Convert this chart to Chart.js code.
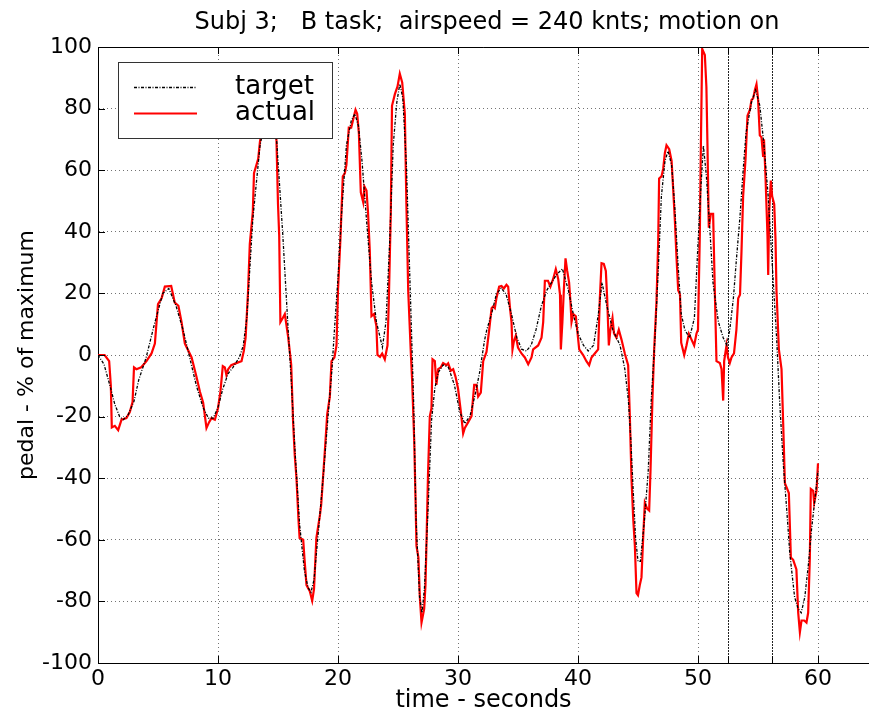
<!DOCTYPE html>
<html><head><meta charset="utf-8">
<script src="https://cdn.jsdelivr.net/npm/chart.js@4.4.1/dist/chart.umd.min.js"></script>
<style>html,body{margin:0;padding:0;background:#fff;}canvas{display:block;}</style>
</head><body>
<canvas id="c" width="869" height="717"></canvas>
<script>
const titleText = 'Subj 3;   B task;  airspeed = 240 knts; motion on';
const xTitle = 'time - seconds';
const yTitle = 'pedal - % of maximum';
const seriesLabels = ['target', 'actual'];
const xTicks = [0, 10, 20, 30, 40, 50, 60];
const yTicks = [-100, -80, -60, -40, -20, 0, 20, 40, 60, 80, 100];
const xMin = 0, xMax = 64.25, yMin = -100, yMax = 100;
const markerTimes = [52.52, 56.18];

const targetT = [0,0.5,1.0,1.4,1.8,2.1,2.5,3.0,3.4,4.0,4.7,5.4,5.9,6.5,7.1,7.65,8.2,8.75,9.2,9.6,10.0,10.4,10.85,11.25,11.8,12.1,12.4,12.65,12.9,13.2,13.5,13.9,14.3,14.6,14.9,15.4,15.85,16.1,16.4,16.8,17.2,17.5,17.75,18.0,18.35,18.8,19.2,19.5,19.7,20.0,20.3,20.7,21.1,21.4,21.7,22.0,22.4,22.8,23.2,23.7,24.0,24.3,24.6,24.9,25.15,25.4,25.7,26.0,26.3,26.5,26.8,27.0,27.2,27.5,27.8,28.07,28.35,28.76,29.2,29.7,30.15,30.57,31.0,31.4,31.8,32.2,32.4,32.8,33.2,33.6,34.0,34.45,34.9,35.3,35.7,36.1,36.5,36.95,37.4,37.8,38.2,38.7,39.2,39.6,40.0,40.45,40.85,41.3,41.7,42.0,42.4,42.9,43.5,43.9,44.2,44.4,44.6,44.8,45.0,45.2,45.55,45.85,46.1,46.4,46.7,46.95,47.25,47.5,47.8,48.05,48.35,48.6,48.9,49.3,49.7,50.0,50.25,50.45,50.7,51.0,51.25,51.7,52.1,52.4,52.65,52.95,53.2,53.5,53.75,54.0,54.45,54.8,55.15,55.5,55.85,56.2,56.55,56.8,57.1,57.4,57.65,58.05,58.35,58.6,58.9,59.2,59.45,59.75,60.0];
const targetV = [0,-3,-10,-16,-20,-21,-19.5,-15,-8,-1,10,20,21.6,16,8,-1,-10,-17,-20.5,-20.5,-17,-11,-6,-4,-0.6,3,12,28,44,56,68,76,78,76,69,39,8,-8,-30,-55,-70,-75.5,-77,-73,-58,-38,-18.5,-4.5,8,25,46,68,76,78.3,74.5,63,42.6,23.5,10.8,2.5,10.8,36,68,82,88,83.4,61.7,23.5,-14.8,-53,-78.6,-83.7,-76,-50.5,-21,-10.8,-5.7,-3.2,-4,-9.7,-18.5,-22.3,-19.8,-13.4,-5.7,4.5,8.2,13.4,19.8,21.7,19.8,13.4,5.7,1.9,1.3,3.2,8.2,16,21,23.6,26,28,21,13.4,7,3.2,1.3,3.2,13.4,23.5,16,8.2,3.2,-4.5,-14.8,-27.4,-44,-59.4,-67,-67,-53,-37.8,-14.8,4.5,28.6,51.6,63,66.2,61.7,49,28.6,13.4,8.2,5.6,12,36,55,68,58,40,23.5,10.7,5.6,3.2,8.2,18.5,31,45,59.3,72,82,86,81,68,51.5,28.6,5.6,-14.8,-35,-50.5,-64.5,-78.6,-82.4,-83.7,-78.6,-68,-57,-46.7,-37.6];

const actualT = [0,0.55,0.93,1.07,1.15,1.4,1.68,1.96,2.37,2.65,2.88,3.0,3.2,3.6,4.04,4.46,4.74,4.88,5.0,5.3,5.57,6.1,6.4,6.7,6.96,7.24,7.8,8.2,8.5,8.76,9.04,9.26,9.46,9.74,10.0,10.2,10.4,10.57,10.7,10.85,11.1,11.68,11.96,12.15,12.3,12.5,12.65,12.9,13.0,13.2,13.35,13.5,13.75,14.1,14.5,14.87,15.0,15.1,15.2,15.4,15.57,15.85,16.0,16.1,16.26,16.4,16.54,16.7,16.8,17.1,17.2,17.375,17.65,17.85,18.0,18.2,18.5,18.6,18.9,19.1,19.32,19.46,19.7,19.875,20.0,20.2,20.4,20.57,20.7,20.9,21.1,21.26,21.46,21.6,21.74,21.9,22.1,22.2,22.375,22.5,22.65,22.79,23.0,23.2,23.29,23.5,23.68,23.9,24.125,24.24,24.4,24.5,24.74,24.96,25.15,25.35,25.57,25.7,25.85,26.07,26.18,26.35,26.46,26.54,26.7,26.82,26.96,27.18,27.29,27.375,27.5,27.65,27.79,27.875,28.07,28.2,28.35,28.57,28.76,29.04,29.18,29.4,29.6,29.79,30.0,30.24,30.43,30.57,30.85,31.125,31.35,31.54,31.68,31.9,32.1,32.375,32.6,32.8,32.93,33.07,33.2,33.43,33.625,33.82,34.04,34.18,34.32,34.46,34.54,34.65,34.82,35.0,35.29,35.57,35.85,36.125,36.26,36.68,36.96,37.1,37.24,37.5,37.7,37.93,38.15,38.35,38.5,38.57,38.7,38.82,38.96,39.1,39.26,39.375,39.46,39.6,39.82,40.0,40.1,40.43,40.7,40.93,41.125,41.4,41.68,41.82,41.96,42.15,42.32,42.43,42.57,42.7,42.875,43.0,43.2,43.4,43.625,43.9,44.18,44.32,44.46,44.6,44.74,44.875,45.0,45.15,45.29,45.43,45.57,45.76,45.93,46.04,46.2,46.35,46.54,46.68,46.76,46.96,47.1,47.24,47.375,47.6,47.8,47.93,48.07,48.2,48.35,48.5,48.6,48.85,49.04,49.24,49.46,49.68,49.875,50.0,50.15,50.24,50.35,50.57,50.7,50.79,50.9,51.07,51.26,51.4,51.54,51.82,51.96,52.1,52.18,52.375,52.5,52.65,52.79,53.0,53.2,53.35,53.5,53.625,53.76,53.96,54.125,54.32,54.46,54.6,54.74,54.875,55.0,55.15,55.29,55.43,55.5,55.625,55.79,55.85,55.93,56.07,56.18,56.35,56.46,56.54,56.74,56.96,57.1,57.24,57.375,57.57,57.74,57.93,58.2,58.35,58.49,58.625,58.85,59.04,59.18,59.32,59.4,59.6,59.68,59.875,60.0];
const actualV = [0,0,-2,-10,-23.5,-23,-24.4,-21,-20.5,-18.5,-15.3,-4,-4.6,-4,-2,0.5,3.7,10.7,16.5,18.4,22.2,22.4,17,16,10.7,3.7,-0.8,-7,-12,-15.4,-23.7,-21.8,-20.5,-21,-17.3,-12,-3.6,-4,-6.5,-4.6,-3.3,-2.4,-2,1.3,5.6,20.3,36,46.4,59,61.7,63.7,69.4,74,77,76,70,49,38.8,10.7,12,13.3,5.7,0.5,-3.2,-22,-32.7,-40,-53,-59.4,-60,-65.8,-74.7,-76.7,-79.8,-76,-59.4,-51.8,-48.6,-31.4,-19.3,-13.5,-2,-0.8,3.1,21,37.5,58,59,61.7,73.8,73.8,76.4,79.6,78.3,72,52.8,49.6,54.7,53.4,46.4,33.7,12.6,13.3,9.4,0,-0.6,0.5,-1.4,3.1,18.4,46.4,80.9,84.7,87.2,91.3,88.5,78.3,49,21,0.5,-8.4,-27.6,-46.7,-62,-65.8,-78.6,-86.9,-82.4,-74.7,-60.7,-39,-19.9,-17.3,-1.4,-2,-9.7,-4.6,-4,-2.6,-3.3,-2.7,-5.1,-4.6,-7,-10.8,-18.5,-25.5,-23.7,-21.8,-19.9,-9.7,-9.7,-13.5,-12.2,-2,1,8.2,15.2,15.8,15.2,18.4,22.2,22.4,21.6,22.8,22.2,15.8,10.7,1.8,4.3,6.3,2.4,0.5,-0.8,-3,-0.8,1.8,3.1,5.6,10.7,24.1,24.1,22.2,24.7,27.9,24.7,19.6,1.8,10.7,21,31.4,27.3,23.5,17,10.7,13.3,12.6,5.6,1.8,0,-2,-3.3,-0.8,0.5,1.8,18.4,29.8,29.6,27.3,18.4,3.1,8.2,12,7,5.6,8.2,5,0.5,-3.3,-19.9,-40.3,-53,-62,-77.3,-78,-74.7,-72.2,-59.4,-48,-49.9,-50.5,-37.8,-14.7,1.9,17.2,36.2,57.3,58,60.5,65.6,68.1,66.8,63,54,43.9,32.4,21,19.6,4,0,3.1,6.9,5,3.1,7,8.2,38.8,68,99.4,97.4,87,68,41.3,45.8,45.8,21,-2,-2.6,-4.5,-14.8,-2,3.1,-0.8,-2.6,-0.8,0.5,8.2,18.4,19.6,33.7,51.5,63.6,77.7,79.6,82.8,83.4,86,87.9,83.4,71.3,70.7,64.3,70,58,38.8,26,46.4,56.6,51.5,49,37.5,21,1.8,-4.6,-22.4,-41.6,-42.9,-44.8,-65.8,-66.5,-69.6,-83.7,-90,-86.2,-86.2,-86.9,-83.7,-65.8,-43.5,-44.1,-48,-44.1,-35.2];

const FONT = "'DejaVu Sans', 'Liberation Sans', sans-serif";
const toXY = (ts, vs) => ts.map((t, i) => ({x: t, y: vs[i]}));

const framePlugin = {
  id: 'frame',
  afterLayout(chart) {
    const a = chart.chartArea;
    if (chart.titleBlock) { chart.titleBlock.left = a.left + 7; chart.titleBlock.right = a.right; }
  },
  beforeDatasetsDraw(chart) {
    const {ctx, chartArea: a, scales: {x}} = chart;
    ctx.save();
    ctx.strokeStyle = '#222';
    ctx.lineWidth = 1;
    ctx.setLineDash([2, 1]);
    markerTimes.forEach(t => {
      const px = Math.round(x.getPixelForValue(t)) + 0.5;
      ctx.beginPath(); ctx.moveTo(px, a.top); ctx.lineTo(px, a.bottom); ctx.stroke();
    });
    ctx.restore();
  },
  afterDatasetsDraw(chart) {
    const {ctx, chartArea: a, scales: {x, y}} = chart;
    ctx.save();
    ctx.strokeStyle = '#000';
    ctx.lineWidth = 1;
    ctx.setLineDash([]);
    ctx.beginPath();
    ctx.moveTo(a.left, a.top + 0.5); ctx.lineTo(a.right, a.top + 0.5);
    const tl = 7;
    xTicks.concat(markerTimes).forEach(t => {
      const px = Math.round(x.getPixelForValue(t)) + 0.5;
      ctx.moveTo(px, a.bottom); ctx.lineTo(px, a.bottom - tl);
      ctx.moveTo(px, a.top); ctx.lineTo(px, a.top + tl);
    });
    yTicks.forEach(v => {
      const py = Math.round(y.getPixelForValue(v)) + 0.5;
      ctx.moveTo(a.left, py); ctx.lineTo(a.left + tl, py);
    });
    ctx.stroke();

    // legend box
    const lx = 118, ly = 62, lw = 214, lh = 76;
    ctx.fillStyle = '#fff';
    ctx.fillRect(lx, ly, lw, lh);
    ctx.strokeStyle = '#333';
    ctx.strokeRect(lx + 0.5, ly + 0.5, lw, lh);
    const ds = chart.data.datasets;
    const rows = [87.5, 113.5];
    ds.forEach((d, i) => {
      ctx.save();
      ctx.strokeStyle = d.borderColor;
      ctx.lineWidth = d.borderWidth;
      ctx.setLineDash(d.borderDash || []);
      ctx.beginPath(); ctx.moveTo(134, rows[i]); ctx.lineTo(197, rows[i]); ctx.stroke();
      ctx.restore();
      ctx.fillStyle = '#000';
      ctx.font = '26px ' + FONT;
      ctx.textAlign = 'left';
      ctx.textBaseline = 'alphabetic';
      ctx.fillText(d.label, 235, rows[i] + 6);
    });
    ctx.restore();
  }
};

new Chart(document.getElementById('c'), {
  type: 'line',
  data: {
    datasets: [
      { label: seriesLabels[0], data: toXY(targetT, targetV), borderColor: '#000', borderWidth: 1.3,
        borderDash: [3, 1.5, 1, 1.5], pointRadius: 0, tension: 0, fill: false },
      { label: seriesLabels[1], data: toXY(actualT, actualV), borderColor: '#ff0000', borderWidth: 2.2,
        pointRadius: 0, tension: 0, fill: false }
    ]
  },
  options: {
    responsive: false,
    animation: false,
    devicePixelRatio: 1,
    layout: { padding: { top: 0, left: 0, right: 0, bottom: 0 } },
    plugins: {
      legend: { display: false },
      tooltip: { enabled: false },
      title: { display: true, text: titleText, color: '#000',
        font: { family: FONT, size: 24, weight: 'normal', lineHeight: 1.2 },
        padding: { top: 8, bottom: 10.2 } }
    },
    scales: {
      x: {
        type: 'linear', min: xMin, max: xMax,
        afterBuildTicks: s => { s.ticks = xTicks.map(v => ({value: v})); },
        afterFit: s => { s.height = 54; },
        ticks: { color: '#000', font: { family: FONT, size: 22 }, padding: 3, maxRotation: 0, autoSkip: false },
        grid: { color: 'rgba(0,0,0,0.55)', lineWidth: 1, drawTicks: false },
        border: { display: true, color: '#000', width: 1, dash: [1, 3] },
        title: { display: true, text: xTitle, color: '#000', font: { family: FONT, size: 24 }, padding: { top: 0, bottom: 2 } }
      },
      y: {
        type: 'linear', min: yMin, max: yMax,
        afterBuildTicks: s => { s.ticks = yTicks.map(v => ({value: v})); },
        afterFit: s => { s.width = 98; },
        ticks: { color: '#000', font: { family: FONT, size: 22 }, padding: 6 },
        grid: { color: 'rgba(0,0,0,0.55)', lineWidth: 1, drawTicks: false },
        border: { display: true, color: '#000', width: 1, dash: [1, 3] },
        title: { display: true, text: yTitle, color: '#000', font: { family: FONT, size: 22 }, padding: { top: 14, bottom: 0 } }
      }
    }
  },
  plugins: [framePlugin]
});
</script>
</body></html>
